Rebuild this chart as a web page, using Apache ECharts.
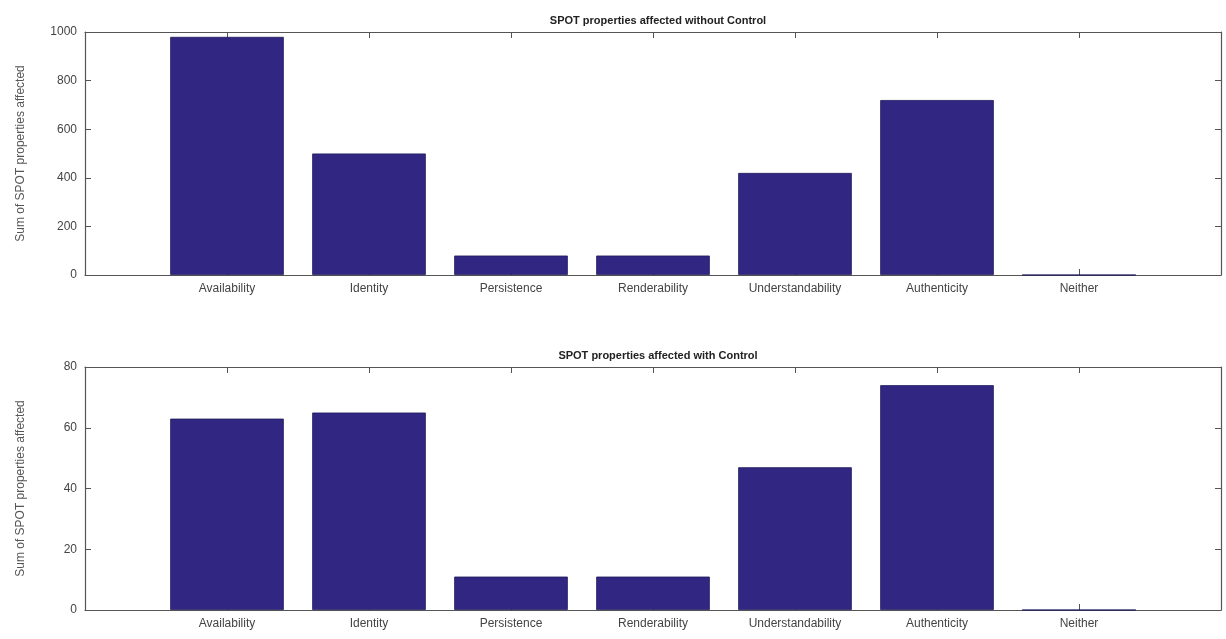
<!DOCTYPE html>
<html lang="en">
<head>
    <meta charset="UTF-8">
    <title>SPOT properties</title>
    <script src="https://cdn.jsdelivr.net/npm/echarts@6/dist/echarts.min.js"></script>
    <style>
        html, body { margin: 0; padding: 0; background: #fff; }
        #box { width: 1226px; height: 639px; }
    </style>
</head>
<body>
<div id="box"></div>
<script>
    // categories (padded with blanks so the axis runs 0..8 like the matlab plot)
    var categories = ['Availability', 'Identity', 'Persistence', 'Renderability', 'Understandability', 'Authenticity', 'Neither'];
    var withoutControl = [980, 500, 80, 80, 420, 720, 0];
    var withControl = [63, 65, 11, 11, 47, 74, 0];
    var topTicks = [0, 200, 400, 600, 800, 1000];
    var bottomTicks = [0, 20, 40, 60, 80];

    var axisData = [''].concat(categories).concat(['']);
    function pad(arr) { return [null].concat(arr).concat([null]); }

    var lineCol = '#555';
    var textCol = '#444';
    var font = 'Liberation Sans';
    var last = axisData.length - 1;
    var inner = function (i) { return i > 0 && i < last; };

    function xAxes(gi) {
        return [{
            type: 'category', gridIndex: gi, data: axisData, boundaryGap: false, position: 'bottom',
            axisLine: { onZero: false, lineStyle: { color: lineCol, width: 1.2 } },
            axisTick: { show: true, inside: true, length: 6, interval: inner, lineStyle: { color: lineCol } },
            axisLabel: { show: true, color: textCol, fontSize: 12, fontFamily: font, margin: 8, interval: 0 },
            splitLine: { show: false }
        }, {
            // mirror axis on top, only for the box edge and the inward ticks
            type: 'value', gridIndex: gi, position: 'top', min: 0, max: last, interval: 1,
            axisLine: { show: true, onZero: false, lineStyle: { color: lineCol, width: 1.2 } },
            axisTick: { show: true, inside: true, length: 6, lineStyle: { color: lineCol, width: 1 } },
            axisLabel: { show: false },
            splitLine: { show: false }
        }];
    }

    function yAxes(gi, ticks) {
        var mn = ticks[0], mx = ticks[ticks.length - 1], step = ticks[1] - ticks[0];
        return [{
            type: 'value', gridIndex: gi, min: mn, max: mx, interval: step, position: 'left',
            name: 'Sum of SPOT properties affected', nameLocation: 'middle', nameGap: 58,
            nameTextStyle: { color: '#555', fontSize: 12, fontFamily: font },
            axisLine: { show: true, onZero: false, lineStyle: { color: lineCol, width: 1.2 } },
            axisTick: { show: true, inside: true, length: 6, lineStyle: { color: lineCol } },
            axisLabel: { color: textCol, fontSize: 12, fontFamily: font, margin: 8,
                formatter: function (v) { return String(v); } },
            splitLine: { show: false }
        }, {
            type: 'value', gridIndex: gi, min: mn, max: mx, interval: step, position: 'right',
            axisLine: { show: true, onZero: false, lineStyle: { color: lineCol, width: 1.2 } },
            axisTick: { show: true, inside: true, length: 6, lineStyle: { color: lineCol } },
            axisLabel: { show: false },
            splitLine: { show: false }
        }];
    }

    var barStyle = { color: '#312782', borderColor: '#1e1a5a', borderWidth: 0.8 };

    var myChart = echarts.init(document.getElementById('box'));
    var option = {
        backgroundColor: '#fff',
        animation: false,
        title: [{
            text: 'SPOT properties affected without Control',
            left: 653, top: 10, textAlign: 'center',
            textStyle: { fontSize: 11, fontWeight: 'bold', color: '#222', fontFamily: font }
        }, {
            text: 'SPOT properties affected with Control',
            left: 653, top: 345, textAlign: 'center',
            textStyle: { fontSize: 11, fontWeight: 'bold', color: '#222', fontFamily: font }
        }],
        grid: [
            { left: 85, right: 5, top: 32, height: 243 },
            { left: 85, right: 5, top: 367, height: 243 }
        ],
        xAxis: xAxes(0).concat(xAxes(1)),
        yAxis: yAxes(0, topTicks).concat(yAxes(1, bottomTicks)),
        series: [{
            type: 'bar', xAxisIndex: 0, yAxisIndex: 0, data: pad(withoutControl),
            barWidth: '80%', itemStyle: barStyle
        }, {
            type: 'bar', xAxisIndex: 2, yAxisIndex: 2, data: pad(withControl),
            barWidth: '80%', itemStyle: barStyle
        }]
    };
    myChart.setOption(option);
    window.addEventListener('resize', myChart.resize);
</script>
</body>
</html>
